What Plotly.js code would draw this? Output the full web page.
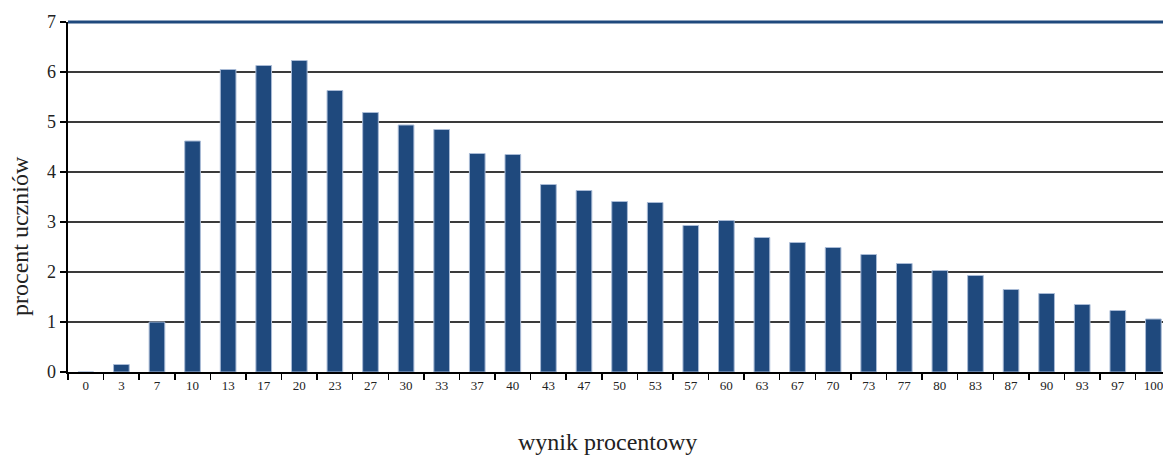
<!DOCTYPE html>
<html>
<head>
<meta charset="utf-8">
<script src="https://cdn.plot.ly/plotly-3.0.1.min.js"></script>
<style>html,body{margin:0;padding:0;background:#fff;overflow:hidden}</style>
</head>
<body>
<div id="chart" style="width:1163px;height:457px"></div>
<script>
const categories = ["0","3","7","10","13","17","20","23","27","30","33","37","40","43","47","50","53","57","60","63","67","70","73","77","80","83","87","90","93","97","100"];
const values = [0, 0.15, 1.0, 4.62, 6.05, 6.13, 6.23, 5.63, 5.19, 4.94, 4.85, 4.37, 4.35, 3.75, 3.63, 3.41, 3.39, 2.93, 3.03, 2.69, 2.59, 2.49, 2.35, 2.17, 2.03, 1.93, 1.65, 1.57, 1.35, 1.23, 1.06];
const xTitle = "wynik procentowy";
const yTitle = "procent uczniów";

const serif = "'Liberation Serif', 'Times New Roman', serif";

const trace = {
  type: "bar",
  x: categories,
  y: values,
  width: 0.44,
  marker: {color: "#1F497D", line: {color: "#a9bbd6", width: 1}},
  hoverinfo: "skip"
};

const layout = {
  width: 1163,
  height: 457,
  margin: {l: 68, r: 0, t: 22, b: 85, pad: 0},
  paper_bgcolor: "#fff",
  plot_bgcolor: "#fff",
  showlegend: false,
  font: {family: serif},
  xaxis: {
    type: "category",
    range: [-0.5, 30.27],
    tickson: "boundaries",
    ticks: "outside",
    ticklen: 6,
    tickwidth: 1.5,
    tickcolor: "#000",
    showline: true,
    linecolor: "#000",
    linewidth: 2,
    showgrid: false,
    tickfont: {family: serif, size: 13, color: "#222"}
  },
  yaxis: {
    range: [0, 7],
    dtick: 1,
    tick0: 0,
    ticks: "outside",
    ticklen: 6,
    tickwidth: 1.5,
    tickcolor: "#000",
    showline: true,
    linecolor: "#000",
    linewidth: 2.5,
    showgrid: true,
    gridcolor: "#3a3a3a",
    gridwidth: 1.5,
    zeroline: false,
    tickfont: {family: serif, size: 18, color: "#222"}
  },
  annotations: [
    {text: xTitle, xref: "paper", yref: "paper", xanchor: "center", yanchor: "middle",
     x: (607 - 68) / 1095, y: (372 - 442) / 350, showarrow: false,
     font: {family: serif, size: 24, color: "#222"}},
    {text: yTitle, xref: "paper", yref: "paper", xanchor: "center", yanchor: "middle",
     x: (20 - 68) / 1095, y: (372 - 236) / 350, textangle: -90, showarrow: false,
     font: {family: serif, size: 24, color: "#222"}}
  ],
  shapes: [
    {type: "line", xref: "paper", yref: "paper", x0: 0, x1: 1, y0: 1, y1: 1, line: {color: "#1F497D", width: 3}}
  ]
};

Plotly.newPlot("chart", [trace], layout, {displayModeBar: false, staticPlot: true});
</script>
</body>
</html>
